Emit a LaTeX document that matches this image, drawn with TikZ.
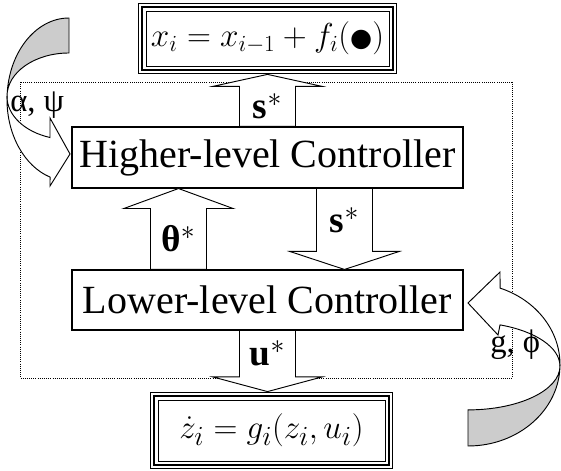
\documentclass[tikz,border=0pt]{standalone}
\usepackage{fontspec}
\setmainfont{Liberation Serif}
\newfontfamily\dotfont{DejaVu Sans}
\usetikzlibrary{calc,fit}
\definecolor{ribbon}{RGB}{204,204,204}
\tikzset{ctrl/.style={draw,fill=white,line width=0.8pt,minimum width=293.25pt,inner sep=0pt,font=\fontsize{30}{36}\selectfont},
  eqbox/.style={draw,line width=0.7pt,inner sep=0pt},
  rimthick/.style={draw,line width=1.5pt,inner sep=2.4pt},
  rimthin/.style={draw,line width=0.7pt,inner sep=5.6pt},
  blockarr/.style={draw,fill=white,line width=0.7pt},
  arrlabel/.style={font=\fontsize{28}{34}\selectfont\bfseries,inner sep=0pt},
  backband/.style={draw,fill=ribbon,line width=0.7pt},
  frontband/.style={draw,fill=white,line width=0.7pt},
  sidelabel/.style={font=\fontsize{24.5}{28}\selectfont,inner sep=0pt,anchor=base west},
  scopebox/.style={densely dotted,line width=0.6pt}}
% hollow block arrow: tail, tip, head length, label
\newcommand{\blockarrow}[4]{%
  \draw[blockarr] let \p1=(#1), \p2=(#2), \n1={sign(\y2-\y1)}, \p3=(\x1,{\y2-(\n1)*#3}) in
    (\x1-21pt,\y1) -- (\x1-21pt,\y3) -- (\x1-41pt,\y3) -- (\x1,\y2)
    -- (\x1+41pt,\y3) -- (\x1+21pt,\y3) -- (\x1+21pt,\y1) -- cycle
    (\x1,{(\y1+\y3)/2}) node[arrlabel] {#4};}

\begin{document}
\begin{tikzpicture}[x=0.75pt,y=0.75pt]
\useasboundingbox (0,0) rectangle (561,471);
\draw[scopebox] (20,389) rectangle (512,93);

\node[ctrl,minimum height=45.75pt] (highctrl) at (267.5,313.5) {Higher-level Controller};
\node[ctrl,minimum height=45pt] (lowctrl) at (267.5,171) {Lower-level Controller};

\node[eqbox,minimum width=182.25pt,minimum height=41.25pt,font=\fontsize{27}{32}\selectfont] (xeq) at (267.5,432.5)
  {$x_i = x_{i-1} + f_i(${\dotfont\fontsize{19}{20}\selectfont\raisebox{0.5pt}{●}}$)$};
\node[rimthick,fit=(xeq)] (xeqmid) {};
\node[rimthin,fit=(xeq)] (xeqrim) {};
\node[eqbox,minimum width=170.25pt,minimum height=45.75pt,font=\fontsize{30}{36}\selectfont] (zeq) at (271.5,40.5)
  {$\dot z_i = g_i(z_i,u_i)$};
\node[rimthick,fit=(zeq)] (zeqmid) {};
\node[rimthin,fit=(zeq)] (zeqrim) {};

\blockarrow{highctrl.north}{xeqrim.south}{9pt}{s$^{*}$}
\blockarrow{$(lowctrl.north)+(-89,0)$}{$(highctrl.south)+(-89,0)$}{15pt}{θ$^{*}$}
\blockarrow{$(highctrl.south)+(77,0)$}{$(lowctrl.north)+(77,0)$}{13.5pt}{s$^{*}$}
\blockarrow{lowctrl.south}{zeqrim.north}{11pt}{u$^{*}$}

% curved arrows
\filldraw[backband] (69,453) arc[start angle=90,end angle=180,x radius=62,y radius=81.5]
  -- (7,374.7) arc[start angle=180,end angle=90,x radius=62,y radius=43.3] -- cycle;
\filldraw[frontband] (7,371.5) arc[start angle=180,end angle=252.2,x radius=62,y radius=81.5]
  -- (50,285) -- (70,317) -- (50,353) -- (50,333.5)
  arc[start angle=252.2,end angle=180,x radius=62,y radius=43.3] -- cycle;
\filldraw[backband] (468,25) arc[start angle=270,end angle=360,x radius=92,y radius=81.5]
  -- (560,105) arc[start angle=0,end angle=-90,x radius=92,y radius=43.9] -- cycle;
\filldraw[frontband] (560,106.5) arc[start angle=0,end angle=69.6,x radius=92,y radius=81.5]
  -- (500,199) -- (468,168) -- (498,136) -- (500,146.1)
  arc[start angle=69.6,end angle=0,x radius=92,y radius=43.9] -- cycle;

\node[sidelabel] (alpsi) at (10,359) {α, ψ};
\node[sidelabel] (gphi) at (490,118) {g, ϕ};
\end{tikzpicture}
\end{document}
